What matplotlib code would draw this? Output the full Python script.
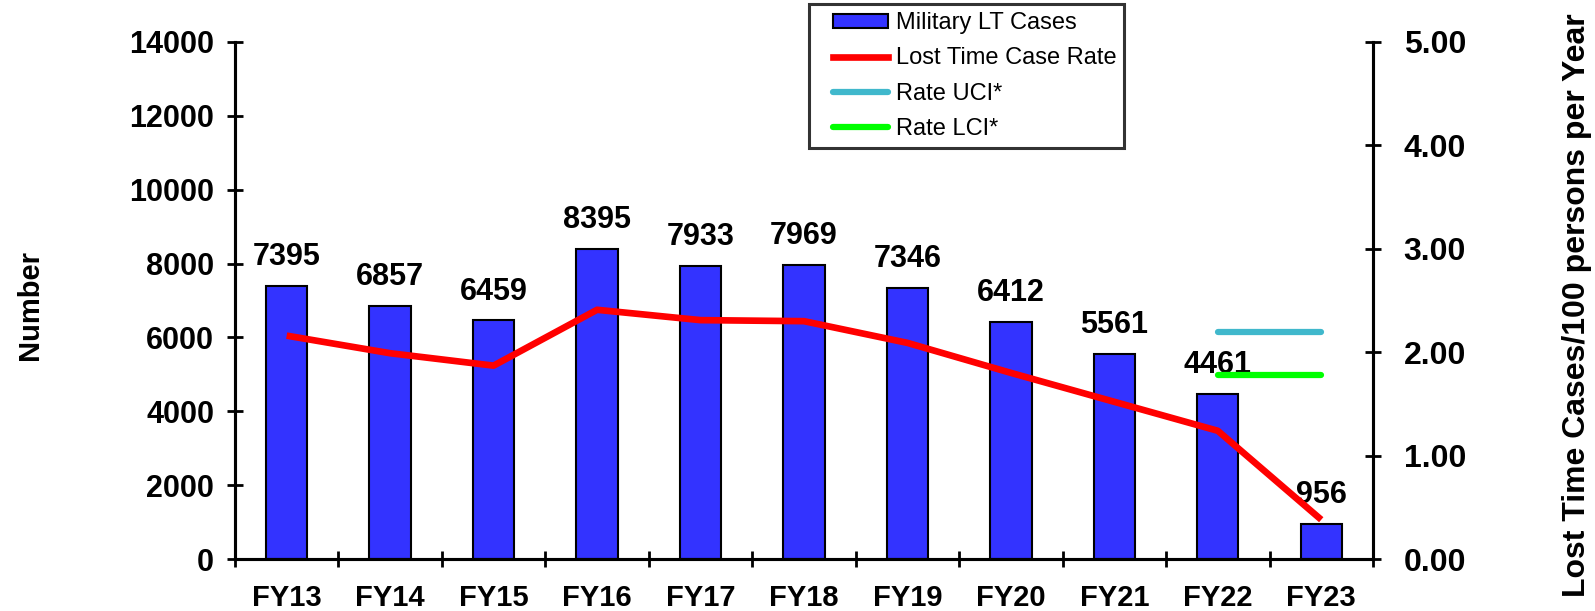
import numpy as np
import matplotlib
matplotlib.use('Agg')
import matplotlib.pyplot as plt
from matplotlib.patches import Patch
from matplotlib.lines import Line2D
from matplotlib.legend_handler import HandlerLine2D, HandlerPatch

# data
years = ['FY13', 'FY14', 'FY15', 'FY16', 'FY17', 'FY18', 'FY19', 'FY20', 'FY21', 'FY22', 'FY23']
cases = [7395, 6857, 6459, 8395, 7933, 7969, 7346, 6412, 5561, 4461, 956]
rate = [2.16, 1.99, 1.87, 2.41, 2.31, 2.30, 2.09, 1.80, 1.52, 1.24, 0.38]
ci_years = ['FY22', 'FY23']
rate_uci = 2.20
rate_lci = 1.78

plt.rcParams['font.family'] = ['Liberation Sans', 'DejaVu Sans']

bar_color = '#3333FF'
rate_color = '#FF0000'
uci_color = '#40B8CC'
lci_color = '#00FF00'

fig = plt.figure(figsize=(15.95, 6.11), dpi=100)
ax = fig.add_axes([0.1473, 0.0851, 0.7135, 0.8462])
ax2 = ax.twinx()

x = np.arange(len(years))
ax.bar(x, cases, width=0.4, color=bar_color, edgecolor='black', linewidth=1.5, zorder=2)

for xi, v in zip(x, cases):
    ax.annotate(str(v), (xi, v), xytext=(0, 10), textcoords='offset points',
                ha='center', va='bottom', fontsize=22, fontweight='bold')

ax2.plot(x, rate, color=rate_color, linewidth=4.8, solid_capstyle='butt')
ci_x = [years.index(y) for y in ci_years]
ax2.plot(ci_x, [rate_uci, rate_uci], color=uci_color, linewidth=4.5, solid_capstyle='round')
ax2.plot(ci_x, [rate_lci, rate_lci], color=lci_color, linewidth=4.5, solid_capstyle='round')

# axes ranges and ticks
ax.set_xlim(-0.5, len(years) - 0.5)
ax.set_ylim(0, 14000)
ax.set_yticks(np.arange(0, 14001, 2000))
ax2.set_ylim(0, 5)
ax2.set_yticks(np.arange(0, 5.01, 1))
ax2.set_yticklabels([f'{v:.2f}' for v in np.arange(0, 5.01, 1)])

ax.set_xticks(x)
ax.set_xticklabels(years)
ax.set_xticks(np.arange(-0.5, len(years), 1), minor=True)
ax.tick_params(axis='x', which='major', length=0, pad=18, labelsize=21)
ax.tick_params(axis='x', which='minor', direction='inout', length=12, width=2)
ax.tick_params(axis='y', direction='inout', length=12, width=2, pad=9, labelsize=22)
ax2.tick_params(axis='y', direction='inout', length=12, width=2, pad=16, labelsize=23)
for lab in ax.get_xticklabels() + ax.get_yticklabels() + ax2.get_yticklabels():
    lab.set_fontweight('bold')

for a in (ax, ax2):
    a.spines['top'].set_visible(False)
    for s in ('left', 'right', 'bottom'):
        a.spines[s].set_linewidth(2.2)

fig.text(0.019, 0.5, 'Number', rotation=90, ha='center', va='center',
         fontsize=21, fontweight='bold')
fig.text(0.989, 0.5, 'Lost Time Cases/100 persons per Year', rotation=90,
         ha='center', va='center', fontsize=23, fontweight='bold')

handles = [
    Patch(facecolor=bar_color, edgecolor='black', linewidth=1.5),
    Line2D([], [], color=rate_color, linewidth=4.8),
    Line2D([], [], color=uci_color, linewidth=4.5, solid_capstyle='round'),
    Line2D([], [], color=lci_color, linewidth=4.5, solid_capstyle='round'),
]
labels = ['Military LT Cases', 'Lost Time Case Rate', 'Rate UCI*', 'Rate LCI*']
hmap = {Patch: HandlerPatch(xpad=0.68), Line2D: HandlerLine2D(xpad=0.68)}
leg = fig.legend(handles, labels, loc='upper left', bbox_to_anchor=(0.507, 0.993),
                 fontsize=17, frameon=True, fancybox=False, edgecolor='black',
                 handlelength=3.05, handleheight=0.55, labelspacing=0.56,
                 borderpad=0.33, handletextpad=0.3, borderaxespad=0,
                 handler_map=hmap)
leg.get_frame().set_linewidth(2.2)

fig.savefig('out.png', dpi=100)
